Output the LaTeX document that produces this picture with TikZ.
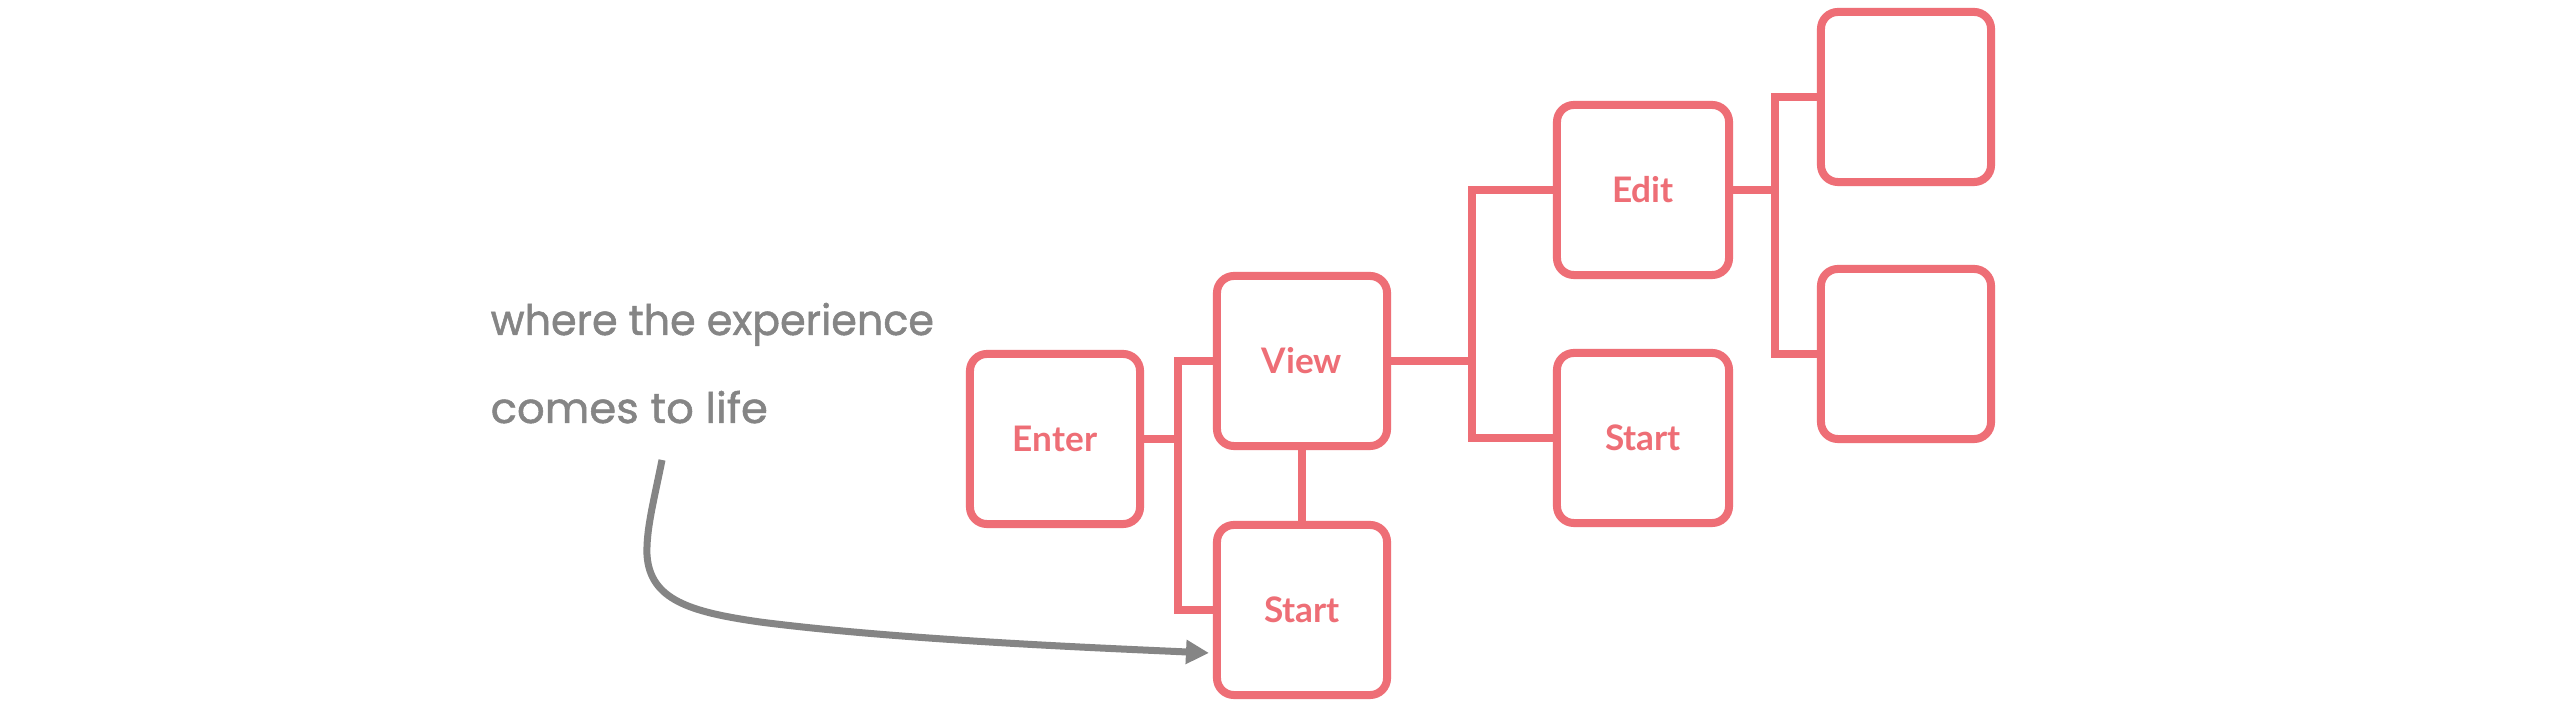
\documentclass[tikz,border=0pt]{standalone}
\usepackage{fontspec}
\setmainfont{Lato}
\newfontfamily\handfont{Poppins}[FakeBold=1.2]
\usetikzlibrary{arrows.meta}
\definecolor{coral}{HTML}{EE6E76}
\definecolor{pen}{HTML}{858585}
\begin{document}
\begin{tikzpicture}[x=0.01cm,y=-0.01cm,
  card/.style={draw=coral, line width=0.08cm, rounded corners=0.17cm,
    minimum width=1.70cm, minimum height=1.70cm, inner sep=0pt,
    font=\fontsize{10}{12}\selectfont\bfseries, text=coral},
  link/.style={draw=coral, line width=0.08cm},
  note/.style={text=pen, font=\handfont\fontsize{12}{14}\selectfont, inner sep=0pt, anchor=base west},
  pointer/.style={draw=pen, line width=0.07cm, -{Triangle[length=0.23cm,width=0.23cm]}}]
\fill[white] (0,0) rectangle (2560,710);
\useasboundingbox (0,0) rectangle (2560,710);

\node[card] (enter) at (1055,439) {Enter};
\node[card] (view) at (1302,361) {View};
\node[card] (start1) at (1302,610) {Start};
\node[card, minimum width=1.72cm] (edit) at (1643,190) {Edit};
\node[card, minimum width=1.72cm] (start2) at (1643,438) {Start};
\node[card] (tr) at (1906,97) {};
\node[card] (br) at (1906,354) {};

\coordinate (j1) at (1178,439);
\draw[link] (enter.east) -- (j1);
\draw[link] (view.west) -| (j1) |- (start1.west);
\draw[link] (view.south) -- (start1.north);
\coordinate (j2) at (1472,361);
\draw[link] (view.east) -- (j2);
\draw[link] (edit.west) -| (j2) |- (start2.west);
\coordinate (j3) at (1775,190);
\draw[link] (edit.east) -- (j3);
\draw[link] (tr.west) -| (j3) |- (br.west);

\node[note] (t1) at (490,335) {\resizebox{4.43cm}{\height}{where the experience}};
\node[note] (t2) at (490,423) {\resizebox{2.77cm}{\height}{comes to life}};

\coordinate (a0) at (662,460);
\coordinate (a1) at (1209,653);
\draw[pointer] (a0) .. controls (654,500) and (646,530) .. (647,555)
  .. controls (650,600) and (690,612) .. (760,622)
  .. controls (900,640) and (1100,648) .. (a1);
\end{tikzpicture}
\end{document}
